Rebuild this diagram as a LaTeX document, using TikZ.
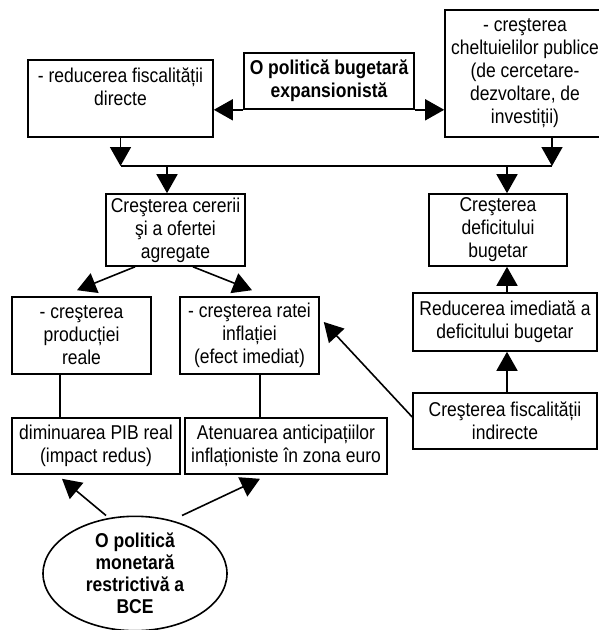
\documentclass[tikz,border=0pt]{standalone}
\usepackage{fontspec}
\setmainfont{Liberation Sans}[FakeStretch=0.875]
\usetikzlibrary{arrows.meta, shapes.geometric}

\begin{document}
\begin{tikzpicture}[x=1pt, y=-1pt, line width=1.6pt,
every node/.style={draw, shape=rectangle, align=center, inner sep=0pt, font=\fontsize{20}{23}\selectfont},
tip/.style={-{Triangle[width=21pt, length=19pt]}}]
\useasboundingbox (0,0) rectangle (599,630);
% Define nodes
\path
(120.5,98.5) node[minimum width=185pt, minimum height=77pt] (red) {- reducerea fiscalității\\directe\\\mbox{}}
(329,81) node[minimum width=170pt, minimum height=56pt, font=\fontsize{20}{23}\selectfont\bfseries] (pol) {O politică bugetară\\expansionistă}
(525,73.5) node[minimum width=160pt, minimum height=127pt] (chelt) {- creşterea\\cheltuielilor publice\\(de cercetare-\\dezvoltare, de\\investiții)}
(175.5,230) node[minimum width=139pt, minimum height=72pt] (cerere) {Creşterea cererii\\şi a ofertei\\agregate}
(498,230) node[minimum width=138pt, minimum height=72pt] (def) {Creşterea\\deficitului\\bugetar}
(81.5,335.5) node[minimum width=139pt, minimum height=77pt] (prod) {- creşterea\\producției\\reale}
(249.5,335.5) node[minimum width=139pt, minimum height=77pt] (infl) {- creşterea ratei\\inflației\\(efect imediat)}
(505,322) node[minimum width=184pt, minimum height=58pt] (redimm) {Reducerea imediată a\\deficitului bugetar}
(505,421) node[minimum width=184pt, minimum height=56pt] (fisc) {Creşterea fiscalității\\indirecte}
(96,446) node[minimum width=168pt, minimum height=56pt] (pib) {diminuarea PIB real\\(impact redus)}
(286,446) node[minimum width=202pt, minimum height=56pt] (aten) {Atenuarea anticipațiilor\\inflaționiste în zona euro}
(135,573.5) node[shape=ellipse, minimum width=184pt, minimum height=111pt, font=\fontsize{20}{22}\selectfont\bfseries] (bce) {O politică\\monetară\\restrictivă a\\BCE}
;
\coordinate (busA) at (167,166);
\coordinate (busB) at (507,166);
\coordinate (busR) at (552,166);

\draw[tip] (pol.south west) -- (pol.south west -| red.east);
\draw[tip] (pol.south east) -- (pol.south east -| chelt.west);
\draw[tip] (red.south) -- (red.south |- busR);
\draw[tip] (busR |- chelt.south) -- (busR);
\draw (red.south |- busR) -- (busR);
\draw[tip] (busA) -- (busA |- cerere.north);
\draw[tip] (busB) -- (busB |- def.north);

\draw[tip] ([xshift=-40.5pt]cerere.south) -- ([xshift=-4.5pt, yshift=6pt]prod.north);
\draw[tip] ([xshift=17.5pt]cerere.south) -- ([xshift=2.5pt, yshift=6pt]infl.north);
\draw ([xshift=-21.5pt]prod.south) -- ([xshift=-21.5pt]prod.south |- pib.north);
\draw ([xshift=10.5pt]infl.south) -- ([xshift=10.5pt]infl.south |- aten.north);

\draw[tip] (busB |- redimm.north) -- (busB |- def.south);
\draw[tip] (busB |- fisc.north) -- (busB |- redimm.south);
\draw[tip] ([yshift=4pt]fisc.west) -- ([xshift=4pt, yshift=13.5pt]infl.east);

\draw[tip] ([xshift=-29pt]bce.north) -- ([xshift=-34pt, yshift=-4pt]pib.south);
\draw[tip] ([xshift=47pt]bce.north) -- ([xshift=-26pt, yshift=-4pt]aten.south);

\end{tikzpicture}
\end{document}
